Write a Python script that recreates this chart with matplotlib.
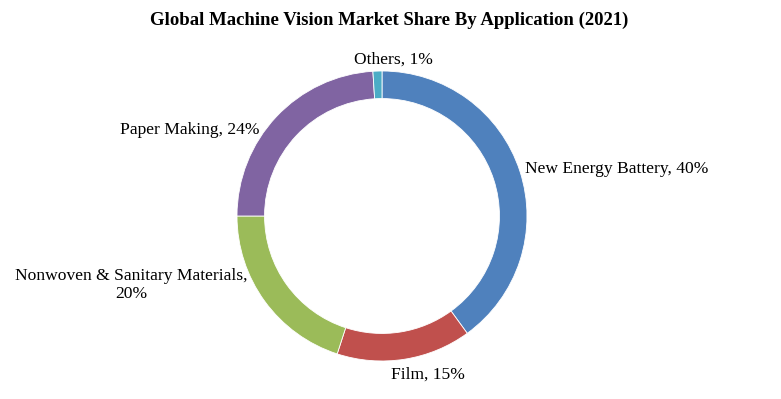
import matplotlib
matplotlib.use("Agg")
import matplotlib.pyplot as plt

categories = ["New Energy Battery", "Film", "Nonwoven & Sanitary Materials", "Paper Making", "Others"]
shares = [40, 15, 20, 24, 1]
colors = ["#4F81BD", "#C0504D", "#9BBB59", "#8064A2", "#4BACC6"]
title = "Global Machine Vision Market Share By Application (2021)"

plt.rcParams['font.family'] = ['Liberation Serif', 'DejaVu Serif']

W, H = 781, 399
fig = plt.figure(figsize=(W / 100, H / 100), dpi=100)
cx, cy, R = 382, 216, 145
ax = fig.add_axes([(cx - R) / W, (H - cy - R) / H, 2 * R / W, 2 * R / H])
ax.pie(shares, colors=colors, startangle=90, counterclock=False, radius=1,
       wedgeprops=dict(width=0.19, edgecolor="white", linewidth=0.6))
ax.set_xlim(-1, 1)
ax.set_ylim(-1, 1)
ax.set_aspect('equal')
ax.axis('off')

def px(x, y):
    return (x - cx) / R, (cy - y) / R

label_pos = [
    (525, 169, 'left'),
    (428, 375, 'center'),
    (131, 285, 'center'),
    (190, 130, 'center'),
    (393, 60, 'center'),
]
for cat, val, (x, y, ha) in zip(categories, shares, label_pos):
    txt = f"{cat}, {val}%"
    if cat.startswith("Nonwoven"):
        txt = f"{cat},\n{val}%"
    ax.text(*px(x, y), txt, ha=ha, va='center', fontsize=12.6, color='black',
            linespacing=1.15, clip_on=False)

fig.text(389 / W, 1 - 20 / H, title, ha='center', va='center', fontsize=13.5,
         fontweight='bold')

fig.savefig("out.png", dpi=100, facecolor='white')
